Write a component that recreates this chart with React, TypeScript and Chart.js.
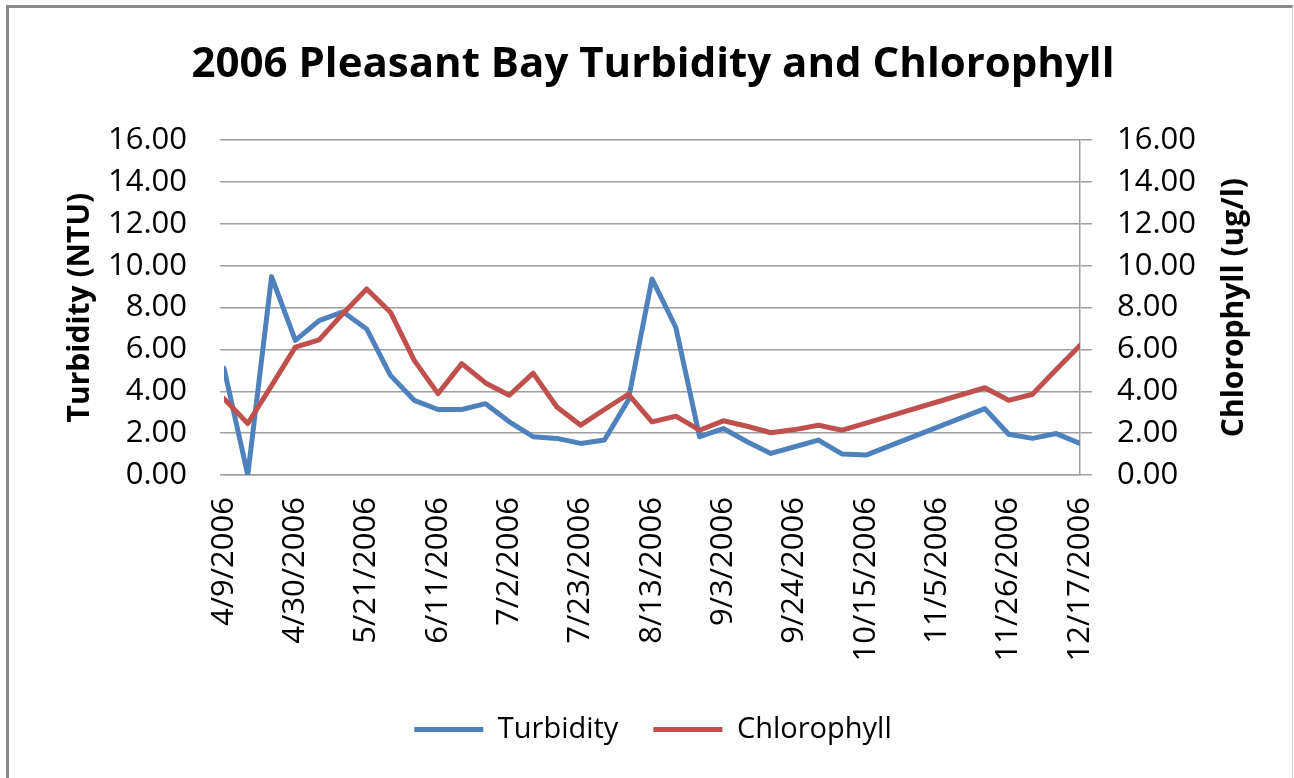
import React, { useEffect, useRef } from 'react';
import { Chart, registerables } from 'chart.js';

Chart.register(...registerables);

// ---- data ----
const sampleDates = [
  '4/9/2006', '4/16/2006', '4/23/2006', '4/30/2006', '5/7/2006', '5/14/2006', '5/21/2006',
  '5/28/2006', '6/4/2006', '6/11/2006', '6/18/2006', '6/25/2006', '7/2/2006', '7/9/2006',
  '7/16/2006', '7/23/2006', '7/30/2006', '8/6/2006', '8/13/2006', '8/20/2006', '8/27/2006',
  '9/3/2006', '9/10/2006', '9/17/2006', '9/24/2006', '10/1/2006', '10/8/2006', '10/15/2006',
  '11/19/2006', '11/26/2006', '12/3/2006', '12/10/2006', '12/17/2006',
];

const turbidity = [
  5.10, 0.00, 9.48, 6.43, 7.38, 7.80, 6.98,
  4.76, 3.57, 3.13, 3.13, 3.41, 2.54, 1.83,
  1.75, 1.51, 1.67, 3.57, 9.37, 7.06, 1.83,
  2.22, 1.59, 1.03, 1.35, 1.67, 1.00, 0.95,
  3.17, 1.95, 1.75, 1.98, 1.51,
];

const chlorophyll = [
  3.65, 2.46, 4.27, 6.11, 6.46, 7.71, 8.89,
  7.78, 5.48, 3.89, 5.32, 4.40, 3.81, 4.87,
  3.25, 2.38, 3.13, 3.86, 2.54, 2.81, 2.14,
  2.59, 2.33, 2.02, 2.17, 2.38, 2.14, 2.48,
  4.17, 3.57, 3.86, 5.04, 6.19,
];

const axisStartDate = '4/9/2006';
const axisEndDate = '12/17/2006';
const xTickStepDays = 21;
const yMin = 0;
const yMax = 16;
const yStep = 2;

const titleText = '2006 Pleasant Bay Turbidity and Chlorophyll';
const leftAxisTitle = 'Turbidity (NTU)';
const rightAxisTitle = 'Chlorophyll (ug/l)';

// ---- helpers ----
const parseDate = (s: string) => {
  const [m, d, y] = s.split('/').map(Number);
  return new Date(y, m - 1, d);
};
const START = parseDate(axisStartDate);
const dayOffset = (s: string) =>
  Math.round((parseDate(s).getTime() - START.getTime()) / 86400000);
const dateLabel = (off: number) => {
  const d = new Date(START.getFullYear(), START.getMonth(), START.getDate() + Math.round(off));
  return `${d.getMonth() + 1}/${d.getDate()}/${d.getFullYear()}`;
};

const BLUE = '#4F81BD';
const RED = '#C0504D';
const GRID = '#a0a0a0';
const FONT = '"Open Sans", "DejaVu Sans", sans-serif';

const axisTitlesPlugin = {
  id: 'axisTitles',
  afterDraw(chart: any) {
    const { ctx, chartArea } = chart;
    const cy = (chartArea.top + chartArea.bottom) / 2;
    const items: [number, string][] = [
      [80, leftAxisTitle],
      [1234, rightAxisTitle],
    ];
    ctx.save();
    ctx.font = `bold 30px ${FONT}`;
    ctx.fillStyle = '#000';
    ctx.textAlign = 'center';
    ctx.textBaseline = 'middle';
    items.forEach(([x, t]) => {
      ctx.save();
      ctx.translate(x, cy);
      ctx.rotate(-Math.PI / 2);
      ctx.fillText(t, 0, 0);
      ctx.restore();
    });
    ctx.restore();
  },
};

export default function App() {
  const canvasRef = useRef<HTMLCanvasElement | null>(null);

  useEffect(() => {
    const canvas = canvasRef.current;
    if (!canvas) return;
    const xs = sampleDates.map(dayOffset);
    const chart = new Chart(canvas, {
      type: 'line',
      data: {
        datasets: [
          {
            label: 'Turbidity',
            data: xs.map((x, i) => ({ x, y: turbidity[i] })),
            borderColor: BLUE,
            backgroundColor: BLUE,
            borderWidth: 5,
            pointRadius: 0,
            tension: 0,
            borderJoinStyle: 'round',
            borderCapStyle: 'round',
            yAxisID: 'y',
            order: 2,
          },
          {
            label: 'Chlorophyll',
            data: xs.map((x, i) => ({ x, y: chlorophyll[i] })),
            borderColor: RED,
            backgroundColor: RED,
            borderWidth: 5,
            pointRadius: 0,
            tension: 0,
            borderJoinStyle: 'round',
            borderCapStyle: 'round',
            yAxisID: 'y1',
            order: 1,
          },
        ],
      },
      options: {
        animation: false,
        responsive: false,
        maintainAspectRatio: false,
        devicePixelRatio: 1,
        layout: { padding: { left: 12, right: 0, top: 0, bottom: 24 } },
        plugins: {
          tooltip: { enabled: false },
          title: {
            display: true,
            text: titleText,
            color: '#000',
            font: { family: FONT, size: 42, weight: 'bold', lineHeight: 1.2 },
            padding: { top: 40, bottom: 49.8 },
          },
          legend: {
            display: true,
            position: 'bottom',
            labels: {
              sort: (a: any, b: any) => a.datasetIndex - b.datasetIndex,
              color: '#000',
              font: { family: FONT, size: 29 },
              usePointStyle: true,
              pointStyle: 'line',
              pointStyleWidth: 69,
              padding: 35,
            },
          },
        },
        scales: {
          x: {
            type: 'linear',
            min: 0,
            max: dayOffset(axisEndDate),
            afterFit: (s: any) => { s.height = 205; },
            grid: { display: false, drawTicks: false },
            border: { display: true, color: GRID, width: 1.5 },
            ticks: {
              stepSize: xTickStepDays,
              autoSkip: false,
              minRotation: 90,
              maxRotation: 90,
              padding: 22,
              color: '#000',
              font: { family: FONT, size: 31 },
              callback: (v: any) => dateLabel(Number(v)),
            },
          },
          y: {
            type: 'linear',
            position: 'left',
            min: yMin,
            max: yMax,
            afterFit: (s: any) => { s.width = 212; },
            grid: { color: GRID, lineWidth: 1.5, drawTicks: true, tickLength: 4 },
            border: { display: false },
            ticks: {
              stepSize: yStep,
              padding: 33,
              color: '#000',
              font: { family: FONT, size: 31 },
              callback: (v: any) => Number(v).toFixed(2),
            },
          },
          y1: {
            type: 'linear',
            position: 'right',
            min: yMin,
            max: yMax,
            afterFit: (s: any) => { s.width = 214; },
            grid: { color: GRID, lineWidth: 1.5, drawOnChartArea: false, drawTicks: true, tickLength: 12 },
            border: { display: true, color: GRID, width: 1.5 },
            ticks: {
              stepSize: yStep,
              padding: 25,
              color: '#000',
              font: { family: FONT, size: 31 },
              callback: (v: any) => Number(v).toFixed(2),
            },
          },
        },
      },
      plugins: [axisTitlesPlugin],
    } as any);
    return () => chart.destroy();
  }, []);

  return (
    <div style={{ position: 'fixed', left: 0, top: 0, width: 1294, height: 778, overflow: 'hidden', background: '#fff' }}>
      <div
        style={{
          position: 'absolute', left: 6, top: 5, width: 1287, height: 800, boxSizing: 'border-box',
          borderLeft: '3px solid #8a8a8a', borderTop: '3px solid #8a8a8a', borderRight: '1px solid #d0d0d0',
        }}
      />
      <canvas
        ref={canvasRef}
        width={1294}
        height={778}
        style={{ position: 'absolute', left: 0, top: 0, width: 1294, height: 778, display: 'block' }}
      />
    </div>
  );
}
